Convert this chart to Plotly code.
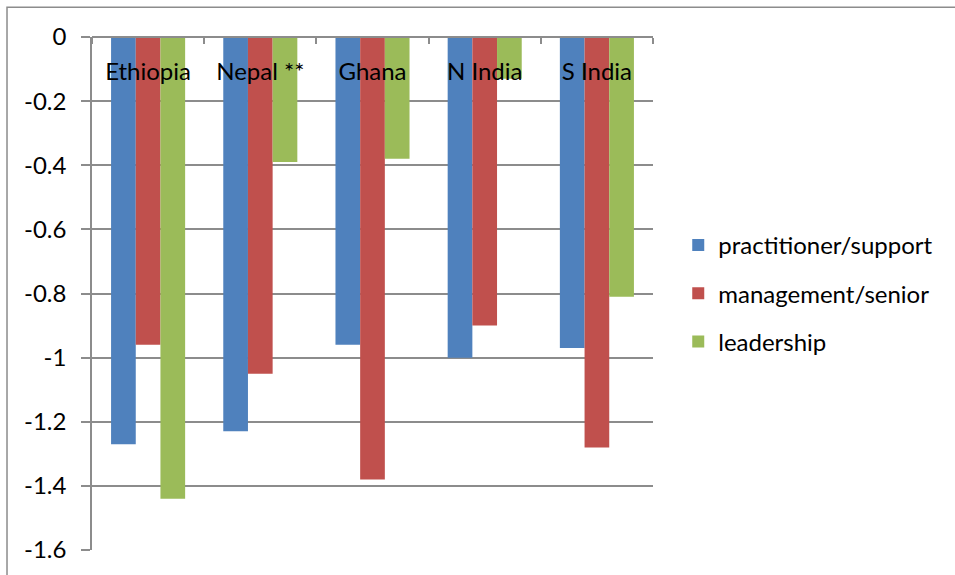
import plotly.graph_objects as go

categories = ["Ethiopia", "Nepal **", "Ghana", "N India", "S India"]
practitioner = [-1.27, -1.23, -0.96, -1.00, -0.97]
management = [-0.96, -1.05, -1.38, -0.90, -1.28]
leadership = [-1.44, -0.39, -0.38, -0.13, -0.81]
series_names = ["practitioner/support", "management/senior", "leadership"]
colors = ["#4F81BD", "#C0504D", "#9BBB59"]
ytick_vals = [0, -0.2, -0.4, -0.6, -0.8, -1.0, -1.2, -1.4, -1.6]
ytick_text = ["0", "-0.2", "-0.4", "-0.6", "-0.8", "-1", "-1.2", "-1.4", "-1.6"]

FONT = "Lato"
FS = 24
fig = go.Figure()
for i, (name, vals) in enumerate(zip(series_names, [practitioner, management, leadership])):
    fig.add_trace(go.Bar(x=categories, y=vals, name=name, marker=dict(color=colors[i], line=dict(width=0)),
                         legendgroup=f"g{i}"))

grid = "#8C8C8C"
fig.update_layout(
    width=955, height=575,
    margin=dict(l=92, r=302, t=37, b=22),
    paper_bgcolor="white", plot_bgcolor="white",
    barmode="group", bargap=0.34, bargroupgap=0,
    font=dict(family=FONT, size=FS, color="#000000"),
    showlegend=True,
    legend=dict(x=1.045, xanchor="left", y=0.5, yanchor="middle", traceorder="grouped",
                tracegroupgap=14, font=dict(size=FS, family=FONT), bgcolor="rgba(0,0,0,0)"),
    xaxis=dict(type="category", anchor="free", position=1, side="bottom",
               showline=True, linecolor=grid, linewidth=1.5,
               ticks="outside", tickson="boundaries", ticklen=6, tickcolor=grid, tickwidth=1.5,
               showgrid=False, ticklabelstandoff=13, tickfont=dict(size=FS, family=FONT)),
    yaxis=dict(range=[-1.6, 0], tickvals=ytick_vals, ticktext=ytick_text,
               showline=True, linecolor=grid, linewidth=1.5,
               ticks="outside", ticklen=9, tickcolor=grid, tickwidth=1.5,
               showgrid=True, gridcolor=grid, gridwidth=1.5, zeroline=False,
               ticklabelstandoff=10, tickfont=dict(size=FS, family=FONT)),
    shapes=[dict(type="rect", xref="paper", yref="paper", x0=-0.1515, x1=1.6, y0=-0.1, y1=1.058,
                 line=dict(color="#8C8C8C", width=1.5), fillcolor="rgba(0,0,0,0)", layer="below")],
)
fig.write_html("out.html")
